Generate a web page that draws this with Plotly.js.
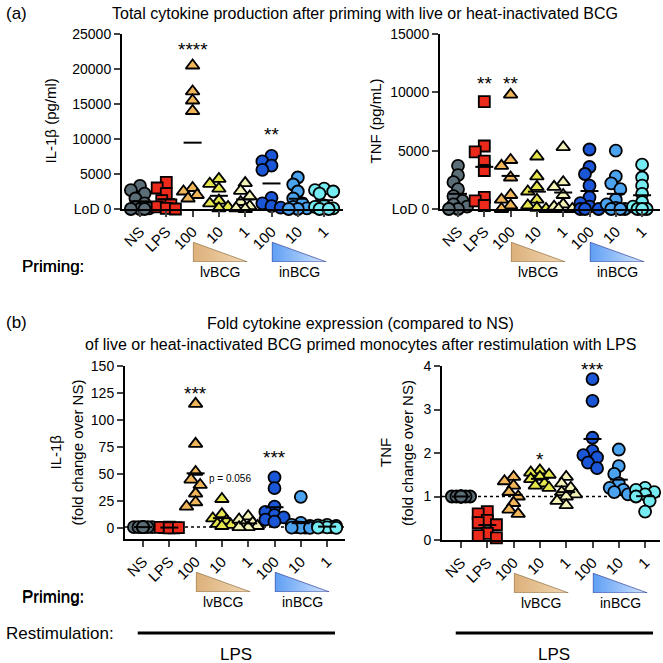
<!DOCTYPE html>
<html><head><meta charset="utf-8">
<script src="https://cdn.plot.ly/plotly-3.0.1.min.js"></script>
<style>body{margin:0;background:#fff}#chart{width:663px;height:663px}</style>
</head><body><div id="chart"></div>
<script>
// ---------------- DATA ----------------
const categories = ['NS','LPS','100','10','1','100','10','1'];
const groupNames = ['NS','LPS','lvBCG 100','lvBCG 10','lvBCG 1','inBCG 100','inBCG 10','inBCG 1'];

// (a) IL-1β total, pg/ml
const il1bTotal = [
  [3300, 2700, 2200, 1500, 800, 300, 100, 0, 0, 0],
  [3800, 3000, 2200, 1200, 600, 300, 100, 0],
  [20500, 16800, 15500, 14000, 3000, 2500, 2000, 1500],
  [4300, 3600, 2900, 1200, 800, 300, 100],
  [3700, 2600, 1800, 1000, 400, 100, 0],
  [7600, 6800, 6200, 5600, 1600, 800, 400, 200],
  [4500, 3500, 2500, 1500, 800, 300, 100, 0, 0],
  [2900, 2700, 2500, 2200, 500, 300, 100, 0, 0]
];
// (a) TNF total, pg/mL
const tnfTotal = [
  [3700, 2900, 2300, 1700, 1100, 700, 400, 200, 0, 0],
  [9200, 5400, 4900, 4100, 3300, 1000, 700, 300],
  [9800, 4200, 3700, 2700, 1200, 800, 300, 0],
  [4500, 2800, 1900, 1500, 800, 300, 100, 0],
  [5300, 2300, 1900, 1200, 400, 200, 0, 0],
  [5100, 3600, 3000, 2000, 1000, 500, 200, 0, 0, 0],
  [5000, 2800, 2200, 1700, 800, 400, 100, 0, 0, 0],
  [3800, 2700, 2000, 1300, 600, 200, 0, 0, 0]
];
// (b) IL-1β fold change over NS
const il1bFold = [
  [1, 1, 1, 1, 1, 1, 1, 1],
  [0.3, 0.5, 0.8, 1.0, 0.2, 0.6],
  [115, 78, 52, 45, 40, 32, 24, 20],
  [27, 13, 9, 7, 4, 3, 2],
  [11, 8, 5, 3, 2, 1, 1],
  [47, 37, 20, 15, 12, 10, 8, 6],
  [29, 5, 3, 2, 1, 0.5, 0.5, 0.5, 0.3],
  [3, 2.5, 2, 1.5, 1, 0.8, 0.5, 0.3]
];
// (b) TNF fold change over NS
const tnfFold = [
  [1, 1, 1, 1, 1, 1, 1, 1],
  [0.65, 0.6, 0.45, 0.4, 0.35, 0.15, 0.1, 0.05],
  [1.45, 1.35, 1.25, 1.1, 1.0, 0.85, 0.7, 0.6],
  [1.6, 1.55, 1.5, 1.45, 1.4, 1.3, 1.25, 1.2],
  [1.45, 1.3, 1.2, 1.1, 1.05, 1.0, 0.9, 0.8],
  [3.7, 3.2, 2.35, 2.05, 1.95, 1.9, 1.78, 1.65],
  [2.08, 1.7, 1.52, 1.3, 1.2, 1.15, 1.1, 1.05],
  [1.2, 1.15, 1.1, 1.05, 1.0, 0.9, 0.65]
];
const tickA1 = [0, 5000, 10000, 15000, 20000, 25000];
const tickA2 = [0, 5000, 10000, 15000];
const tickB1 = [0, 25, 50, 75, 100, 125, 150];
const tickB2 = [0, 1, 2, 3, 4];
// significance labels: [group index, text, y]
const sigA1 = [[2, '****', 22800], [5, '**', 10600]];
const sigA2 = [[1, '**', 10800], [2, '**', 10800]];
const sigB1 = [[2, '***', 125], [5, '***', 65]];
const sigB2 = [[3, '*', 1.86], [5, '***', 3.91]];

// ---------------- STYLE ----------------
const colors = ['#5b6d77','#ec2a1c','#f2b65a','#e6e64c','#f2f2b6','#1a56d6','#4ba2ef','#74ecf2'];
const symbols = ['circle','square','triangle-up','triangle-up','triangle-up','circle','circle','circle'];
const W = 663, H = 663;
const FONT = 'Liberation Sans, Arial, Helvetica, sans-serif';

const panels = [
  {data: il1bTotal, xa:'x',  ya:'y',  px:[122,343], py:[34,209],  ns:140, yr:[0,25000], ticks:tickA1, tt:tickA1.map(v=>v===0?'LoD 0':String(v)), titles:['IL-1β (pg/ml)'], tx:[50], sig:sigA1},
  {data: tnfTotal,  xa:'x2', ya:'y2', px:[440,660], py:[34,209],  ns:458, yr:[0,15000], ticks:tickA2, tt:tickA2.map(v=>v===0?'LoD 0':String(v)), titles:['TNF (pg/mL)'], tx:[375], sig:sigA2},
  {data: il1bFold,  xa:'x3', ya:'y3', px:[125,345], py:[366,539], ns:143, yr:[-10,150], ticks:tickB1, tt:tickB1.map(String), titles:['IL-1β','(fold change over NS)'], tx:[55,77], sig:sigB1, ref:1},
  {data: tnfFold,   xa:'x4', ya:'y4', px:[442,660], py:[366,540], ns:461, yr:[0,4],     ticks:tickB2, tt:tickB2.map(String), titles:['TNF','(fold change over NS)'], tx:[385,407], sig:sigB2, ref:1}
];
const KX = 26.3;
const DIAM = 12;

function swarm(vals, kx, ky, d){
  const idx = vals.map((v,i)=>i).sort((a,b)=>vals[b]-vals[a]);
  const placed = [], off = new Array(vals.length);
  const step = 0.38*d, minD = 0.66*d;
  const cands = [0,-1,1,-2,2];
  for (const i of idx){
    const py = vals[i]*ky;
    let best = 0, bestScore = -1;
    for (const c of cands){
      const px = c*step;
      let md = Infinity;
      for (const p of placed) md = Math.min(md, Math.hypot(p.x-px, p.y-py));
      if (md >= minD){ best = px; bestScore = Infinity; break; }
      if (md > bestScore){ bestScore = md; best = px; }
    }
    placed.push({x:best, y:py});
    off[i] = best/kx;
  }
  return off;
}

const traces = [], layout = {
  width: W, height: H, margin:{l:0,r:0,t:0,b:0}, showlegend:false,
  paper_bgcolor:'#fff', plot_bgcolor:'rgba(0,0,0,0)',
  font:{family:FONT, size:14, color:'#000'},
  annotations:[], shapes:[], images:[]
};
function ann(o){ layout.annotations.push(Object.assign({showarrow:false}, o)); }

panels.forEach((p, pi) => {
  const r0 = -(p.ns - p.px[0])/KX;
  const r1 = r0 + (p.px[1]-p.px[0])/KX;
  const ky = (p.py[1]-p.py[0])/(p.yr[1]-p.yr[0]);
  const xk = 'xaxis' + (pi===0?'':pi+1), yk = 'yaxis' + (pi===0?'':pi+1);
  layout[xk] = {
    domain:[p.px[0]/W, p.px[1]/W], anchor:p.ya, range:[r0,r1],
    tickvals:categories.map((c,i)=>i), ticktext:categories, tickangle:-45,
    showline:true, linewidth:2, linecolor:'#000', ticks:'outside', ticklen:6, tickwidth:2,
    showgrid:false, zeroline:false, tickfont:{size:15}
  };
  layout[yk] = {
    domain:[1-p.py[1]/H, 1-p.py[0]/H], anchor:p.xa, range:p.yr,
    tickvals:p.ticks, ticktext:p.tt,
    showline:true, linewidth:2, linecolor:'#000', ticks:'outside', ticklen:6, tickwidth:2,
    showgrid:false, zeroline:false, tickfont:{size:14}
  };
  // y titles
  p.titles.forEach((t, ti) => {
    ann({xref:'paper', yref:'paper', x:p.tx[ti]/W, y:1-((p.py[0]+p.py[1])/2)/H, text:t, textangle:-90,
      xanchor:'center', yanchor:'middle', font:{size:15}});
  });
  if (p.ref !== undefined){
    layout.shapes.push({type:'line', xref:p.xa+' domain', x0:0, x1:1, yref:p.ya, y0:p.ref, y1:p.ref,
      line:{color:'#000', width:1.5, dash:'dot'}, layer:'below'});
  }
  p.data.forEach((vals, gi) => {
    const off = swarm(vals, KX, ky, DIAM);
    traces.push({
      type:'scatter', mode:'markers', xaxis:p.xa, yaxis:p.ya, cliponaxis:false,
      x: vals.map((v,i)=>gi+off[i]), y: vals, name: groupNames[gi],
      marker:{symbol:symbols[gi], color:colors[gi], size: symbols[gi]==='square'?11:12,
              line:{color:'#000', width:1.8}},
      hoverinfo:'y'
    });
  });
  // mean lines
  const mx = [], my = [];
  p.data.forEach((vals, gi) => {
    const m = vals.reduce((a,b)=>a+b,0)/vals.length;
    const hw = 9/KX;
    mx.push(gi-hw, gi+hw, null); my.push(m, m, null);
  });
  traces.push({type:'scatter', mode:'lines', xaxis:p.xa, yaxis:p.ya, x:mx, y:my, cliponaxis:false,
    line:{color:'#000', width:2}, hoverinfo:'skip'});
  // significance
  p.sig.forEach(s => {
    ann({xref:p.xa, yref:p.ya, x:s[0], y:s[2], text:s[1], yanchor:'middle', font:{size:19}});
  });
  // wedges
  const wTopPx = p.py[1] + 33, wHPx = 20;
  const wedgeTop = 1 - wTopPx/H, wedgeH = wHPx/H;
  const wedges = [
    {x0:2.0, x1:4.1, c1:'#dcb07a', c2:'#f2d8b4', stroke:'#7d5b2c', label:'lvBCG'},
    {x0:5.0, x1:7.1, c1:'#5e9ef3', c2:'#d3e6ff', stroke:'#1a2a8c', label:'inBCG'}
  ];
  wedges.forEach(w => {
    const svg = "<svg xmlns='http://www.w3.org/2000/svg' width='100' height='100' viewBox='0 0 100 100' preserveAspectRatio='none'>" +
      "<defs><linearGradient id='g' x1='0' x2='1' y1='0' y2='0'><stop offset='0' stop-color='"+w.c1+"'/><stop offset='1' stop-color='"+w.c2+"'/></linearGradient></defs>" +
      "<polygon points='1,1 1,99 99,99' fill='url(#g)' stroke='"+w.stroke+"' stroke-width='1.6' vector-effect='non-scaling-stroke'/></svg>";
    layout.images.push({source:'data:image/svg+xml;charset=utf-8,'+encodeURIComponent(svg),
      xref:p.xa, yref:'paper', x:w.x0, y:wedgeTop, sizex:w.x1-w.x0, sizey:wedgeH,
      xanchor:'left', yanchor:'top', sizing:'stretch', layer:'above'});
    ann({xref:p.xa, yref:'paper', x:(w.x0+w.x1)/2, y:wedgeTop-wedgeH, text:w.label, yanchor:'top', font:{size:14}});
  });
  ann({xref:'paper', yref:'paper', x:20/W, y:1-(wTopPx+wHPx+4)/H, text:'Priming:',
    xanchor:'left', yanchor:'middle', font:{size:17}});
});

// p value label
ann({xref:'x3', yref:'y3', x:3.3, y:46, text:'p = 0.056', font:{size:10}});

// restimulation
['x3','x4'].forEach(a => {
  layout.shapes.push({type:'line', xref:a, x0:-0.2, x1:7.3, yref:'paper', y0:1-633/H, y1:1-633/H,
    line:{color:'#000', width:3}});
  ann({xref:a, yref:'paper', x:3.55, y:1-654/H, text:'LPS', yanchor:'middle', font:{size:17}});
});
ann({xref:'paper', yref:'paper', x:4/W, y:1-633/H, text:'Restimulation:', xanchor:'left', yanchor:'middle', font:{size:17}});

// titles
ann({xref:'paper', yref:'paper', x:4/W, y:1-13/H, text:'(a)', xanchor:'left', yanchor:'middle', font:{size:17}});
ann({xref:'paper', yref:'paper', x:365/W, y:1-13/H, text:'Total cytokine production after priming with live or heat-inactivated BCG', yanchor:'middle', font:{size:16}});
ann({xref:'paper', yref:'paper', x:4/W, y:1-322/H, text:'(b)', xanchor:'left', yanchor:'middle', font:{size:17}});
ann({xref:'paper', yref:'paper', x:361/W, y:1-323/H, text:'Fold cytokine expression (compared to NS)', yanchor:'middle', font:{size:16}});
ann({xref:'paper', yref:'paper', x:361/W, y:1-344/H, text:'of live or heat-inactivated BCG primed monocytes after restimulation with LPS', yanchor:'middle', font:{size:16}});

Plotly.newPlot('chart', traces, layout, {staticPlot:true, displayModeBar:false});
</script></body></html>
